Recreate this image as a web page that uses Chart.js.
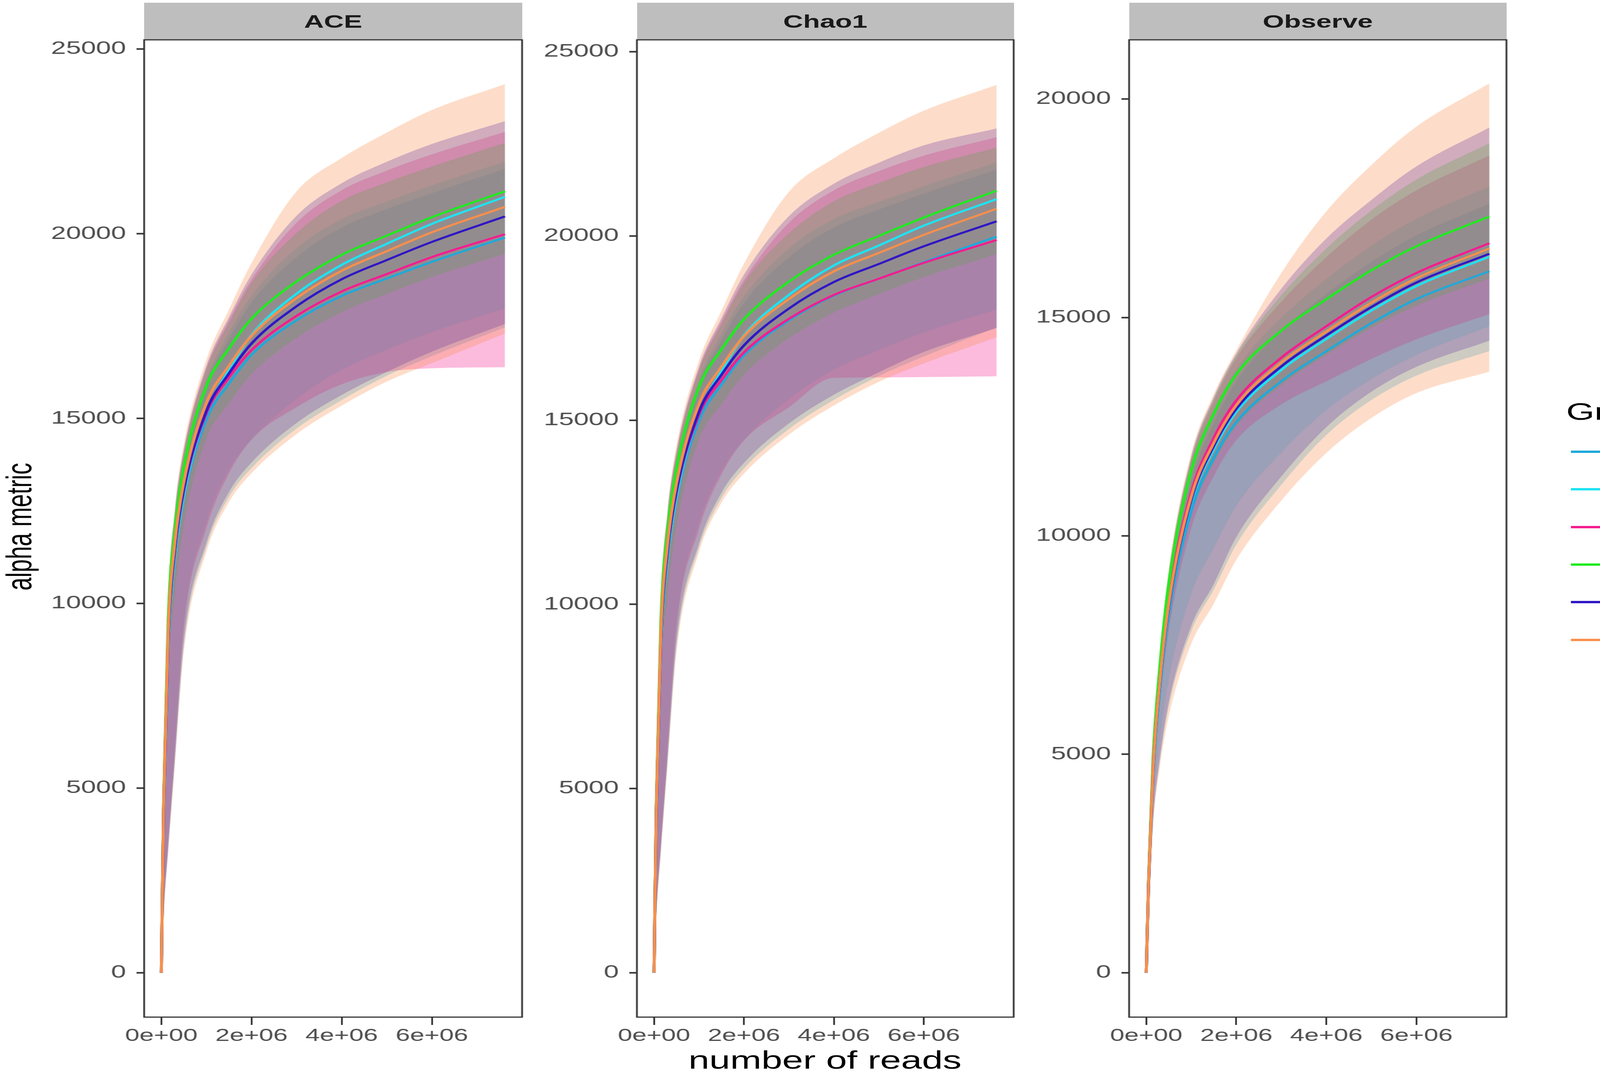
<!DOCTYPE html>
<html>
<head>
<meta charset="utf-8">
<script src="https://cdn.jsdelivr.net/npm/chart.js@4.4.1/dist/chart.umd.min.js"></script>
<style>
  html, body { margin: 0; padding: 0; background: #fff; }
  body { width: 4317px; height: 2743px; overflow: hidden; position: relative; }
  #stage {
    position: absolute; left: 0; top: 0; width: 2878px; height: 2743px;
    transform: scaleX(1.5); transform-origin: 0 0;
    font-family: "Liberation Sans", Arial, sans-serif;
  }
  .strip {
    position: absolute; top: 7px; height: 95px; line-height: 95px;
    background: #bebebe; color: #1a1a1a; font-weight: bold; font-size: 47px;
    text-align: center;
  }
  canvas { position: absolute; }
  .ytitle {
    position: absolute; left: 33px; top: 1349px; font-size: 60px; line-height: 60px;
    white-space: nowrap; color: #000;
    transform: translate(-50%, -50%) rotate(-90deg);
  }
  .xtitle {
    position: absolute; left: 1108px; width: 600px; top: 2683px; font-size: 64px;
    line-height: 64px; text-align: center; white-space: nowrap; color: #000;
  }
  .ltitle { position: absolute; left: 2673px; top: 1023px; font-size: 62px; line-height: 62px; color: #000; }
  .lkey { position: absolute; left: 2681px; width: 80px; height: 6px; }
  .llabel { position: absolute; left: 2805px; font-size: 47px; line-height: 47px; color: #1a1a1a; }
</style>
</head>
<body>
<div id="stage">
  <div class="ytitle">alpha metric</div>
  <div class="xtitle">number of reads</div>
  <div class="ltitle">Group</div>
</div>
<script>
const groups = ["B", "C", "CT", "L", "T", "V"];
const groupColors = ["#1fa9da", "#1de4f2", "#f51c8f", "#1feb1f", "#2f16c4", "#f98f4b"];
const readsX = [0, 50000, 150000, 300000, 500000, 1000000, 1500000, 2000000, 3000000, 4000000, 5000000, 6000000, 7620000];
const xTicks = [0, 2000000, 4000000, 6000000];
const yTicksRich = [0, 5000, 10000, 15000, 20000, 25000];
const yTicksObs = [0, 5000, 10000, 15000, 20000];

// rows follow the order of groups: B, C, CT, L, T, V
const aceMean = [
  [0, 4300, 8900, 11270, 12890, 14980, 15950, 16730, 17660, 18320, 18790, 19240, 19900],
  [0, 4280, 8880, 11280, 12950, 15170, 16310, 17260, 18380, 19160, 19730, 20270, 21000],
  [0, 4390, 9070, 11460, 13080, 15150, 16110, 16850, 17780, 18440, 18910, 19370, 19990],
  [0, 4600, 9500, 12000, 13700, 15880, 16900, 17700, 18710, 19430, 19950, 20450, 21150],
  [0, 4370, 9040, 11450, 13100, 15210, 16220, 17030, 18040, 18770, 19290, 19780, 20470],
  [0, 4440, 9190, 11630, 13290, 15420, 16430, 17240, 18260, 19000, 19530, 20040, 20730]
];
const aceLow = [
  [0, 1550, 3300, 5700, 8850, 11530, 12880, 13660, 14730, 15500, 16160, 16690, 17470],
  [0, 1700, 3550, 6100, 9450, 12200, 13610, 14430, 15530, 16320, 16860, 17340, 17980],
  [0, 1650, 3450, 6000, 9350, 12040, 13520, 14430, 15310, 15930, 16260, 16360, 16390],
  [0, 3600, 7800, 10200, 12100, 14450, 15410, 16200, 17180, 17880, 18370, 18830, 19460],
  [0, 1600, 3350, 5800, 9000, 11640, 13010, 13810, 14880, 15640, 16260, 16810, 17560],
  [0, 1500, 3200, 5600, 8700, 11400, 12740, 13520, 14580, 15350, 16000, 16500, 17300]
];
const aceHigh = [
  [0, 4600, 9500, 12000, 13700, 15960, 17150, 18140, 19370, 20170, 20670, 21100, 21760],
  [0, 4690, 9640, 12120, 13840, 16070, 17320, 18320, 19610, 20400, 20870, 21310, 21950],
  [0, 4830, 9880, 12420, 14110, 16360, 17660, 18760, 20300, 21180, 21710, 22150, 22760],
  [0, 4780, 9830, 12360, 14080, 16330, 17580, 18670, 20020, 20890, 21390, 21820, 22460],
  [0, 4880, 9930, 12480, 14180, 16440, 17750, 18900, 20490, 21370, 21950, 22430, 23050],
  [0, 4970, 10070, 12600, 14320, 16600, 17950, 19210, 21150, 22050, 22740, 23350, 24050]
];

const chaoMean = [
  [0, 4300, 8900, 11270, 12890, 14990, 15970, 16760, 17710, 18380, 18840, 19290, 19980],
  [0, 4280, 8880, 11280, 12950, 15190, 16330, 17300, 18400, 19200, 19740, 20280, 21000],
  [0, 4390, 9070, 11460, 13080, 15150, 16090, 16840, 17750, 18400, 18840, 19270, 19890],
  [0, 4600, 9500, 12000, 13700, 15900, 16920, 17740, 18760, 19490, 20000, 20500, 21230],
  [0, 4370, 9040, 11450, 13100, 15230, 16230, 17030, 18030, 18750, 19240, 19720, 20400],
  [0, 4440, 9190, 11630, 13290, 15440, 16450, 17280, 18290, 19040, 19540, 20030, 20740]
];
const chaoLow = [
  [0, 1550, 3300, 5700, 8850, 11540, 12890, 13690, 14760, 15550, 16200, 16730, 17520],
  [0, 1700, 3550, 6100, 9450, 12210, 13620, 14460, 15570, 16370, 16900, 17380, 18000],
  [0, 1650, 3450, 6000, 9350, 12050, 13530, 14450, 15350, 16150, 16160, 16170, 16190],
  [0, 3600, 7800, 10200, 12100, 14470, 15430, 16230, 17220, 17920, 18420, 18880, 19500],
  [0, 1600, 3350, 5800, 9000, 11650, 13030, 13840, 14910, 15690, 16300, 16850, 17500],
  [0, 1500, 3200, 5600, 8700, 11420, 12760, 13550, 14610, 15400, 16040, 16540, 17250]
];
const chaoHigh = [
  [0, 4600, 9500, 12000, 13700, 15980, 17170, 18180, 19420, 20230, 20720, 21150, 21800],
  [0, 4690, 9640, 12120, 13840, 16090, 17340, 18360, 19660, 20460, 20920, 21350, 22000],
  [0, 4830, 9880, 12420, 14110, 16380, 17680, 18800, 20360, 21240, 21760, 22180, 22680],
  [0, 4780, 9830, 12360, 14080, 16350, 17600, 18720, 20070, 20940, 21440, 21870, 22400],
  [0, 4880, 9930, 12480, 14180, 16460, 17770, 18950, 20540, 21420, 21990, 22460, 22920],
  [0, 4970, 10070, 12600, 14320, 16620, 17970, 19250, 21200, 22110, 22800, 23400, 24100]
];

const obsMean = [
  [0, 1950, 4540, 6470, 8210, 10580, 11780, 12600, 13540, 14230, 14870, 15420, 16060],
  [0, 1990, 4620, 6580, 8350, 10780, 11990, 12840, 13800, 14510, 15160, 15720, 16390],
  [0, 2020, 4700, 6710, 8520, 10990, 12240, 13100, 14080, 14800, 15470, 16020, 16700],
  [0, 2100, 4900, 7000, 8900, 11500, 12800, 13700, 14700, 15420, 16080, 16630, 17310],
  [0, 2000, 4650, 6620, 8390, 10830, 12060, 12910, 13880, 14590, 15240, 15800, 16460],
  [0, 2010, 4670, 6660, 8450, 10900, 12130, 12990, 13970, 14680, 15340, 15900, 16580]
];
const obsLow = [
  [0, 1510, 3430, 4830, 6100, 7820, 8770, 9800, 11170, 12310, 13110, 13670, 14230],
  [0, 1640, 3770, 5320, 6720, 8680, 9730, 10690, 11910, 12880, 13590, 14140, 14800],
  [0, 1810, 4260, 6130, 7830, 10180, 11370, 12190, 13010, 13540, 14050, 14500, 15080],
  [0, 1890, 4410, 6340, 8060, 10470, 11670, 12510, 13450, 14140, 14760, 15270, 15890],
  [0, 1530, 3480, 4900, 6190, 7940, 8900, 9970, 11360, 12490, 13300, 13870, 14470],
  [0, 1470, 3330, 4690, 5870, 7530, 8450, 9450, 10810, 11900, 12700, 13270, 13760]
];
const obsHigh = [
  [0, 2100, 4850, 6900, 8720, 11270, 12580, 13540, 14700, 15540, 16270, 16880, 17600],
  [0, 2140, 4950, 7040, 8900, 11500, 12840, 13810, 14990, 15880, 16640, 17260, 18000],
  [0, 2180, 5050, 7180, 9100, 11730, 13080, 14070, 15360, 16380, 17240, 17910, 18710],
  [0, 2200, 5070, 7210, 9140, 11790, 13150, 14140, 15510, 16580, 17450, 18160, 18990],
  [0, 2210, 5100, 7250, 9170, 11820, 13180, 14180, 15660, 16810, 17690, 18460, 19350],
  [0, 2230, 5150, 7320, 9260, 11900, 13250, 14250, 16020, 17430, 18490, 19370, 20360]
];

const stage = document.getElementById("stage");
const tickFont = '"Liberation Sans", Arial, sans-serif';
const axisW = 180;
const axisH = 110;
const boxTop = 102;
const boxH = 2503;

function sci(v) {
  if (v === 0) return "0e+00";
  let e = Math.floor(Math.log10(v));
  let m = Math.round(v / Math.pow(10, e));
  return m + "e+" + (e < 10 ? "0" + e : e);
}

function rgba(hex, a) {
  let n = parseInt(hex.slice(1), 16);
  return "rgba(" + (n >> 16) + "," + ((n >> 8) & 255) + "," + (n & 255) + "," + a + ")";
}

function points(vals) {
  return vals.map(function (v, i) {
    return { x: readsX[i], y: v };
  });
}

function buildDatasets(mean, low, high) {
  let sets = [];
  groups.forEach(function (g, i) {
    sets.push({
      label: g + " low", data: points(low[i]), borderWidth: 0,
      borderColor: "rgba(0,0,0,0)", pointRadius: 0, fill: false,
      cubicInterpolationMode: "monotone", order: 25 - i
    });
    sets.push({
      label: g + " high", data: points(high[i]), borderWidth: 0,
      borderColor: "rgba(0,0,0,0)", backgroundColor: rgba(groupColors[i], 0.3),
      pointRadius: 0, fill: sets.length - 1,
      cubicInterpolationMode: "monotone", order: 25 - i
    });
  });
  groups.forEach(function (g, i) {
    sets.push({
      label: g, data: points(mean[i]), borderColor: groupColors[i], borderWidth: 5,
      pointRadius: 0, fill: false, cubicInterpolationMode: "monotone", order: 15 - i
    });
  });
  return sets;
}

const panelBorder = {
  id: "panelBorder",
  afterDraw: function (chart) {
    let a = chart.chartArea;
    let ctx = chart.ctx;
    ctx.save();
    ctx.strokeStyle = "#333333";
    ctx.lineWidth = 3;
    ctx.strokeRect(a.left, a.top, a.right - a.left, a.bottom - a.top);
    ctx.restore();
  }
};

function makePanel(name, boxLeft, boxW, mean, low, high, yMin, yMax, yTicks) {
  let strip = document.createElement("div");
  strip.className = "strip";
  strip.style.left = boxLeft + "px";
  strip.style.width = boxW + "px";
  strip.textContent = name;
  stage.appendChild(strip);

  let canvas = document.createElement("canvas");
  canvas.width = axisW + boxW + 4;
  canvas.height = 4 + boxH + axisH;
  canvas.style.left = boxLeft - axisW + "px";
  canvas.style.top = boxTop - 4 + "px";
  stage.appendChild(canvas);

  new Chart(canvas.getContext("2d"), {
    type: "line",
    data: { datasets: buildDatasets(mean, low, high) },
    options: {
      responsive: false,
      animation: false,
      events: [],
      layout: { padding: { top: 4, right: 4, left: 0, bottom: 0 } },
      plugins: { legend: { display: false }, tooltip: { enabled: false } },
      scales: {
        x: {
          type: "linear", min: -381000, max: 8000000,
          afterBuildTicks: function (s) {
            s.ticks = xTicks.map(function (v) { return { value: v }; });
          },
          afterFit: function (s) {
            s.height = axisH;
            s.paddingLeft = 0;
            s.paddingRight = 0;
          },
          border: { display: false },
          grid: { drawOnChartArea: false, drawTicks: true, tickLength: 20, tickWidth: 3, tickColor: "#333333" },
          ticks: {
            callback: sci, color: "#4d4d4d", padding: 2, autoSkip: false,
            maxRotation: 0, minRotation: 0, font: { family: tickFont, size: 44 }
          }
        },
        y: {
          type: "linear", min: yMin, max: yMax,
          afterBuildTicks: function (s) {
            s.ticks = yTicks.map(function (v) { return { value: v }; });
          },
          afterFit: function (s) {
            s.width = axisW;
            s.paddingTop = 0;
            s.paddingBottom = 0;
          },
          border: { display: false },
          grid: { drawOnChartArea: false, drawTicks: true, tickLength: 13, tickWidth: 4, tickColor: "#333333" },
          ticks: {
            callback: function (v) { return String(v); },
            color: "#4d4d4d", padding: 18, autoSkip: false,
            font: { family: tickFont, size: 46 }
          }
        }
      }
    },
    plugins: [panelBorder]
  });
}

function makeLegend() {
  groups.forEach(function (g, i) {
    let y = 1157 + i * 96.3;
    let key = document.createElement("div");
    key.className = "lkey";
    key.style.top = y - 3 + "px";
    key.style.background = groupColors[i];
    stage.appendChild(key);
    let label = document.createElement("div");
    label.className = "llabel";
    label.style.top = y - 23 + "px";
    label.textContent = g;
    stage.appendChild(label);
  });
}

makePanel("ACE", 246, 645, aceMean, aceLow, aceHigh, -1200, 25250, yTicksRich);
makePanel("Chao1", 1087, 643, chaoMean, chaoLow, chaoHigh, -1205, 25325, yTicksRich);
makePanel("Observe", 1927, 644, obsMean, obsLow, obsHigh, -1017, 21357, yTicksObs);
makeLegend();
</script>
</body>
</html>
